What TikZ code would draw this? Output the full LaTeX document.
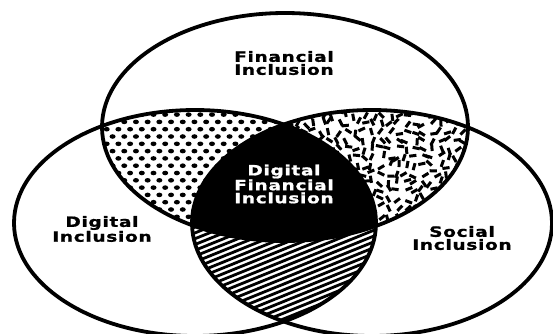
\documentclass[tikz,border=0pt]{standalone}
\usepackage{fontspec}
\setmainfont{DejaVu Sans}[FakeStretch=1.3, LetterSpace=5, FakeBold=1.2]
\begin{document}
\begin{tikzpicture}[x=1pt, y=-1pt, line width=3.8pt,
  venntext/.style={font=\bfseries\fontsize{14.2}{13}\selectfont, align=center, inner sep=0pt},
  dotfill/.style={fill=black},
  dashbar/.style={line width=3pt},
  hatchline/.style={line width=2.8pt}]
\useasboundingbox (0,0) rectangle (553,333);
% the three sets
\def\finset{(285,127) ellipse [x radius=183, y radius=114]}
\def\digset{(195,223) ellipse [x radius=181, y radius=113]}
\def\socset{(372,223) ellipse [x radius=180, y radius=113]}

% financial & digital: staggered dots
\begin{scope}
  \clip \finset; \clip \digset;
  \foreach \r in {0,...,22} {
    \foreach \c in {0,...,18} {
      \fill[dotfill] ({95+\c*11.7+mod(\r,2)*5.85}, {100+\r*7.3}) ellipse [x radius=3.0, y radius=2.3];
    }
  }
\end{scope}

% financial & social: scattered short bars
\begin{scope}
  \clip \finset; \clip \socset;
  \pgfmathsetseed{7}
  \foreach \r in {0,...,19} {
    \foreach \c in {0,...,24} {
      \pgfmathsetmacro\px{272+\c*8.4+rand*3}
      \pgfmathsetmacro\py{98+\r*8.4+rand*3}
      \pgfmathsetmacro\an{rnd*180}
      \draw[dashbar] (\px,\py) ++(\an:3.6) -- ++(\an+180:7.2);
    }
  }
\end{scope}

% digital & social: diagonal hatching
\begin{scope}
  \clip \digset; \clip \socset;
  \foreach \k in {0,...,48} {
    \draw[hatchline] (170, {185+\k*5.8}) -- ++(-22:260);
  }
\end{scope}

% all three: solid
\begin{scope}
  \clip \finset; \clip \digset;
  \fill \socset;
\end{scope}

% outlines
\draw \finset;
\draw \digset;
\draw \socset;

% labels
\node[venntext] (fin) at (284,63) {Financial\\Inclusion};
\node[venntext, text=white] (dfi) at (284,184) {Digital\\Financial\\Inclusion};
\node[venntext] (dig) at (102,229) {Digital\\Inclusion};
\node[venntext] (soc) at (462,238) {Social\\Inclusion};
\end{tikzpicture}
\end{document}
